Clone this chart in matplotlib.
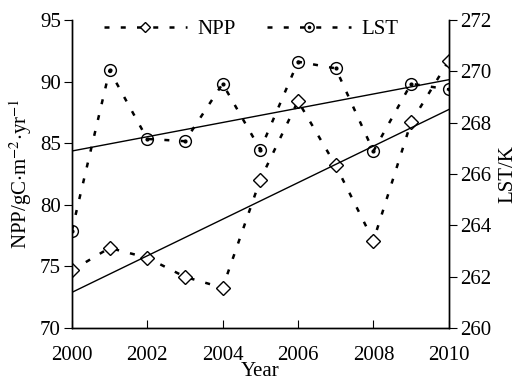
import numpy as np
import matplotlib
matplotlib.use("Agg")
import matplotlib.pyplot as plt

plt.rcParams["font.family"] = ["Liberation Serif", "DejaVu Serif"]
plt.rcParams["mathtext.fontset"] = "stix"

# values
years = [2000, 2001, 2002, 2003, 2004, 2005, 2006, 2007, 2008, 2009, 2010]
npp = [74.67, 76.5, 75.7, 74.15, 73.26, 82.05, 88.43, 83.2, 77.08, 86.7, 91.7]
lst = [263.79, 270.04, 267.37, 267.28, 269.52, 266.95, 270.38, 270.12, 266.89, 269.52, 269.30]
xticks = [2000, 2002, 2004, 2006, 2008, 2010]
npp_ticks = [70, 75, 80, 85, 90, 95]
lst_ticks = [260, 262, 264, 266, 268, 270, 272]

fs = 15
dash = (0, (2.0, 4.5))

fig = plt.figure(figsize=(5.17, 3.8), dpi=100)
ax = fig.add_axes([0.139, 0.137, 0.729, 0.81])
ax2 = ax.twinx()

x = np.array(years, dtype=float)
h1, = ax.plot(x, npp, ls=dash, lw=1.8, color="black", marker="D", ms=7,
              mfc="white", mec="black", mew=1.0)
c_npp = np.polyfit(x, npp, 1)
ax.plot(x[[0, -1]], np.polyval(c_npp, x[[0, -1]]), color="black", lw=1.0)

h2, = ax2.plot(x, lst, ls=dash, lw=1.8, color="black", marker="o", ms=8.5,
               mfc="none", mec="black", mew=1.0)
h3, = ax2.plot(x, lst, ls="none", marker="o", ms=2, color="black")
c_lst = np.polyfit(x, lst, 1)
ax2.plot(x[[0, -1]], np.polyval(c_lst, x[[0, -1]]), color="black", lw=1.0)

ax.set_xlim(2000, 2010)
ax.set_ylim(70, 95)
ax2.set_ylim(260, 272)
ax.set_xticks(xticks)
ax.set_yticks(npp_ticks)
ax2.set_yticks(lst_ticks)

for a in (ax, ax2):
    a.spines["top"].set_visible(False)
    for s in a.spines.values():
        s.set_linewidth(1.0)
ax.tick_params(axis="x", direction="in", length=6, labelsize=fs, pad=13)
ax.tick_params(axis="y", direction="out", length=6, labelsize=fs, pad=2)
ax2.tick_params(axis="y", direction="out", length=6, labelsize=fs, pad=2)

ax.set_xlabel("Year", fontsize=fs, labelpad=-2)
ax.set_ylabel(r"NPP/gC$\cdot$m$^{-2}$$\cdot$yr$^{-1}$", fontsize=fs, labelpad=4)
ax2.set_ylabel("LST/K", fontsize=fs, labelpad=5)

ax.legend([h1, (h2, h3)], ["NPP", "LST"], ncol=2, frameon=False, fontsize=fs,
          loc="upper center", bbox_to_anchor=(0.475, 1.03), handlelength=4.0,
          columnspacing=1.5, handletextpad=0.5, borderaxespad=0,
          markerscale=0.8)

fig.savefig("out.png", dpi=100)
